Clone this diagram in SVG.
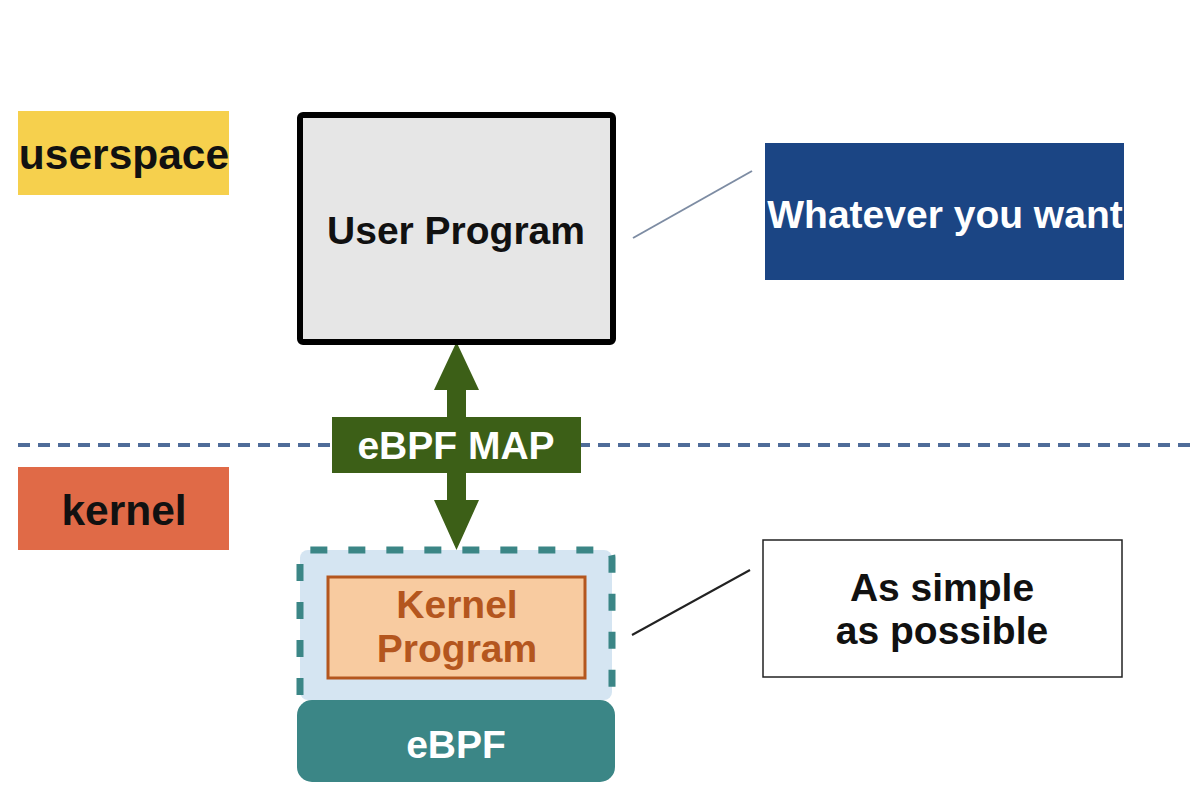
<svg xmlns="http://www.w3.org/2000/svg" width="1194" height="804" viewBox="0 0 1194 804">
<style>
  text { font-family: "Liberation Sans", Arial, sans-serif; font-weight: bold; font-size: 39px; text-anchor: middle; }
  .label { font-size: 42.5px; }
  .dark { fill: #111111; }
  .white { fill: #ffffff; }
  .brown { fill: #b4561e; }
  .leader { fill: none; stroke-width: 2; }
</style>
<rect width="1194" height="804" fill="#ffffff"/>

<g id="separator">
  <line x1="18" y1="445" x2="1194" y2="445" stroke="#4f6c99" stroke-width="4" stroke-dasharray="12 8"/>
</g>

<g id="label-userspace">
  <rect x="18" y="111" width="211" height="84" fill="#f6d04d"/>
  <text x="124" y="169" class="dark label">userspace</text>
</g>

<g id="label-kernel">
  <rect x="18" y="467" width="211" height="83" fill="#e06a47"/>
  <text x="124" y="525" class="dark label">kernel</text>
</g>

<g id="connectors">
  <polygon points="456.5,342 479,390 466,390 466,500 479,500 456.5,550 434,500 447,500 447,390 434,390" fill="#3c5f17"/>
  <line x1="633" y1="238" x2="752" y2="171" class="leader" stroke="#7d8ca3"/>
  <line x1="632" y1="635" x2="750" y2="570" class="leader" stroke="#222222"/>
</g>

<g id="user-program">
  <rect x="300" y="115" width="313" height="227" rx="3" fill="#e6e6e6" stroke="#000000" stroke-width="6"/>
  <text x="456" y="244" class="dark">User Program</text>
</g>

<g id="ebpf-map">
  <rect x="332" y="417" width="249" height="56" fill="#3c5f17"/>
  <text x="456" y="459" class="white">eBPF MAP</text>
</g>

<g id="whatever">
  <rect x="765" y="143" width="359" height="137" fill="#1b4584"/>
  <text x="945" y="228" class="white">Whatever you want</text>
</g>

<g id="kernel-area">
  <rect x="300" y="550" width="312" height="150" rx="8" fill="#d5e5f2"/>
  <path d="M300,695 V558 Q300,550 308,550 H604 Q612,550 612,558 V695" fill="none" stroke="#3b8686" stroke-width="7" stroke-dasharray="17 21"/>
</g>

<g id="kernel-program">
  <rect x="328" y="577" width="257" height="101" fill="#f8cba0" stroke="#b4561e" stroke-width="3"/>
  <text x="457" y="618" class="brown">Kernel</text>
  <text x="457" y="662" class="brown">Program</text>
</g>

<g id="ebpf">
  <rect x="297" y="700" width="318" height="82" rx="15" fill="#3b8686"/>
  <text x="456" y="758" class="white">eBPF</text>
</g>

<g id="as-simple">
  <rect x="763" y="540" width="359" height="137" fill="#ffffff" stroke="#222222" stroke-width="1.5"/>
  <text x="942" y="601" class="dark">As simple</text>
  <text x="942" y="644" class="dark">as possible</text>
</g>
</svg>
